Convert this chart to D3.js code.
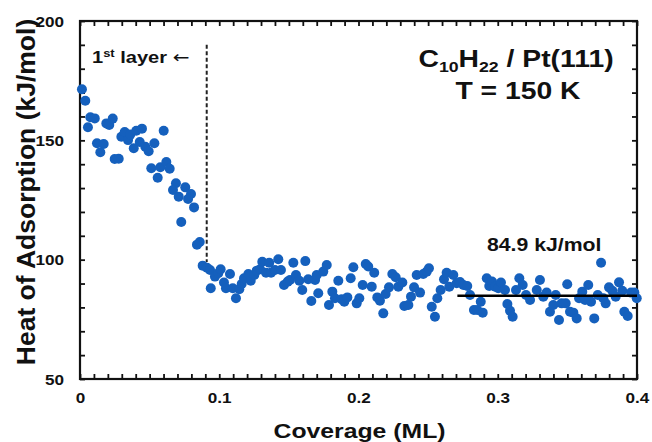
<!DOCTYPE html>
<html>
<head>
<meta charset="utf-8">
<script src="https://cdn.jsdelivr.net/npm/d3@7"></script>
<style>
  body { margin: 0; background: #fff; }
  svg text { font-family: "Liberation Sans", Arial, sans-serif; font-weight: bold; fill: #111; }
</style>
</head>
<body>
<svg id="chart" width="652" height="442"></svg>
<script>
// coverage (ML) values
const coverage = [
  0.0014, 0.0038, 0.0074, 0.0106, 0.0057, 0.0189, 0.0210, 0.0235, 0.0122, 0.0170,
  0.0146, 0.0249, 0.0278, 0.0297, 0.0321, 0.0345, 0.0361, 0.0404, 0.0445, 0.0386,
  0.0429, 0.0469, 0.0493, 0.0534, 0.0601, 0.0512, 0.0558, 0.0577, 0.0620, 0.0644,
  0.0689, 0.0668, 0.0709, 0.0756, 0.0797, 0.0776, 0.0819, 0.0727, 0.0840, 0.0860,
  0.0881, 0.0912, 0.0934,
  0.0939, 0.0969, 0.0993, 0.1010, 0.1034, 0.1048, 0.1077, 0.1097, 0.1120, 0.1144,
  0.1161, 0.1178, 0.1209, 0.1226, 0.1252, 0.1269, 0.1293, 0.1309, 0.1336, 0.1359,
  0.1372, 0.1400, 0.1424, 0.1443, 0.1465, 0.1492, 0.1508, 0.1532, 0.1551, 0.1575,
  0.1596, 0.1618, 0.1639, 0.1661, 0.1688, 0.1700, 0.1711,
  0.1747, 0.1772, 0.1788, 0.1812, 0.1831, 0.1855, 0.1879, 0.1898, 0.1920, 0.1944,
  0.1963, 0.1987, 0.2006, 0.2030, 0.2052, 0.2070, 0.2095, 0.2113, 0.2135, 0.2154,
  0.2178, 0.2195, 0.2219, 0.2243, 0.2267, 0.2286, 0.2315, 0.2329, 0.2358, 0.2377,
  0.2399, 0.2418, 0.2442, 0.2465, 0.2490, 0.2506, 0.2526,
  0.2549, 0.2566, 0.2590, 0.2614, 0.2633, 0.2652, 0.2681, 0.2705, 0.2729, 0.2753,
  0.2781, 0.2801, 0.2829, 0.2853, 0.2878, 0.2892, 0.2921, 0.2939, 0.2959, 0.2982,
  0.3004, 0.3023, 0.3052, 0.3069, 0.3088, 0.3107, 0.3131, 0.3155, 0.3179, 0.3203,
  0.3232, 0.3280,
  0.3303, 0.3327, 0.3351, 0.3375, 0.3399, 0.3416, 0.3440, 0.3459, 0.3488, 0.3499,
  0.3519, 0.3543, 0.3567, 0.3584, 0.3607, 0.3627, 0.3650, 0.3670, 0.3693, 0.3718,
  0.3742, 0.3758, 0.3775, 0.3799, 0.3823, 0.3847, 0.3871, 0.3894, 0.3909, 0.3933,
  0.3957, 0.3981, 0.3998
];

// heat of adsorption (kJ/mol), same order
const heat = [
  171.4, 166.6, 159.7, 159.2, 155.5, 157.1, 156.4, 159.1, 148.8, 148.5,
  145.0, 142.2, 142.3, 151.5, 153.5, 150.1, 152.4, 154.0, 154.9, 146.7,
  149.3, 147.3, 145.4, 148.8, 154.0, 138.3, 134.3, 138.7, 140.9, 138.1,
  132.0, 129.2, 126.4, 130.3, 127.5, 125.4, 121.9, 115.8, 106.3, 107.4,
  97.5, 96.6, 95.7,
  88.0, 92.9, 94.3, 96.0, 90.4, 88.0, 94.0, 88.0, 83.8, 87.6,
  89.8, 92.2, 94.0, 91.2, 93.6, 95.4, 96.0, 99.1, 94.5, 98.7,
  94.5, 95.7, 100.2, 95.7, 89.4, 90.8, 91.5, 98.7, 93.6, 91.2,
  87.3, 99.4, 91.8, 82.7, 91.5, 93.6, 85.9,
  95.0, 97.8, 81.0, 86.6, 83.8, 91.2, 83.4, 82.4, 84.2, 92.2,
  96.8, 81.7, 83.8, 89.4, 98.2, 97.1, 88.7, 94.5, 84.2, 82.8,
  77.5, 85.6, 88.4, 94.0, 92.6, 88.7, 90.4, 80.6, 81.0, 84.5,
  88.4, 93.6, 86.2, 94.0, 95.0, 96.4, 80.3,
  76.1, 83.8, 87.3, 91.8, 94.5, 88.7, 93.6, 90.1, 90.6, 89.4,
  89.0, 85.2, 78.9, 78.9, 82.4, 77.8, 92.2, 89.0, 90.8, 88.7,
  88.0, 90.4, 87.3, 81.4, 78.6, 76.1, 87.3, 92.2, 89.4, 85.2,
  83.1, 87.3,
  91.5, 84.5, 86.2, 78.2, 81.0, 85.2, 74.7, 81.7, 81.7, 89.7,
  78.2, 77.8, 75.4, 83.8, 86.6, 83.1, 89.4, 82.4, 75.4, 85.2,
  98.7, 83.8, 81.7, 88.4, 87.0, 84.5, 90.5, 87.0, 78.2, 76.4,
  86.2, 86.2, 83.8
];

const xTickLabels = [0, 0.1, 0.2, 0.3, 0.4];
const yTickLabels = [50, 100, 150, 200];

const firstLayerEdge = 0.091;        // dashed marker
const firstLayerSpan = [99, 190];
const plateauValue = 84.9;           // average line
const plateauFrom = 0.271;

const width = 652, height = 442;
const margin = { top: 21, right: 15, bottom: 63, left: 80 };
const stretch = 1.18; // glyphs in the picture are drawn wider than normal

const svg = d3.select("#chart");

const x = d3.scaleLinear().domain([0, 0.4]).range([margin.left, width - margin.right]);
const y = d3.scaleLinear().domain([50, 200]).range([height - margin.bottom, margin.top]);

const xMinor = d3.range(0, 41).map((i) => i / 100);
const yMinor = d3.range(50, 201, 10);
const isMajorX = (d) => xTickLabels.some((t) => Math.abs(t - d) < 1e-9);
const fmtX = (d) => (d === 0 ? "0" : d3.format(".1f")(d));

function styleAxis(g) {
  g.select(".domain").remove();
  g.selectAll(".tick line").attr("stroke", "#111").attr("stroke-width", 1.8);
  g.selectAll(".tick text").attr("font-size", 14.5).attr("fill", "#111");
}

// bottom axis with labels
svg.append("g")
  .attr("transform", `translate(0,${height - margin.bottom})`)
  .call(d3.axisBottom(x).tickValues(xMinor).tickSizeInner(-5).tickSizeOuter(0).tickPadding(14)
    .tickFormat((d) => (isMajorX(d) ? fmtX(d) : "")))
  .call(styleAxis)
  .call((g) => g.selectAll(".tick text").attr("transform", `scale(${stretch},1)`));

// top axis, ticks only
svg.append("g")
  .attr("transform", `translate(0,${margin.top})`)
  .call(d3.axisTop(x).tickValues(xMinor).tickSizeInner(-5).tickSizeOuter(0).tickFormat(""))
  .call(styleAxis);

// left axis with labels
svg.append("g")
  .attr("transform", `translate(${margin.left},0)`)
  .call(d3.axisLeft(y).tickValues(yMinor).tickSizeInner(-5).tickSizeOuter(0).tickPadding(16)
    .tickFormat((d) => (yTickLabels.includes(d) ? d : "")))
  .call(styleAxis)
  .call((g) => g.selectAll(".tick text").attr("dy", "0.35em")
    .attr("transform", `scale(${stretch},1)`)
    .attr("x", -16 / stretch));

// right axis, ticks only
svg.append("g")
  .attr("transform", `translate(${width - margin.right},0)`)
  .call(d3.axisRight(y).tickValues(yMinor).tickSizeInner(-5).tickSizeOuter(0).tickFormat(""))
  .call(styleAxis);

// frame
svg.append("rect")
  .attr("x", margin.left).attr("y", margin.top)
  .attr("width", width - margin.left - margin.right)
  .attr("height", height - margin.top - margin.bottom)
  .attr("fill", "none").attr("stroke", "#111").attr("stroke-width", 2.2);

// dashed first-layer marker
svg.append("line")
  .attr("x1", x(firstLayerEdge)).attr("x2", x(firstLayerEdge))
  .attr("y1", y(firstLayerSpan[1])).attr("y2", y(firstLayerSpan[0]))
  .attr("stroke", "#222").attr("stroke-width", 2).attr("stroke-dasharray", "4,2.5");

// points
svg.append("g")
  .selectAll("circle")
  .data(coverage.map((c, i) => [c, heat[i]]))
  .join("circle")
  .attr("cx", (d) => x(d[0]))
  .attr("cy", (d) => y(d[1]))
  .attr("r", 5)
  .attr("fill", "#1560bd");

// plateau line
svg.append("line")
  .attr("x1", x(plateauFrom)).attr("x2", x(0.4))
  .attr("y1", y(plateauValue)).attr("y2", y(plateauValue))
  .attr("stroke", "#000").attr("stroke-width", 2.5);

// helper: horizontally stretched text anchored at (px, py)
function stretchedText(px, py, size, anchor) {
  return svg.append("g")
    .attr("transform", `translate(${px},${py}) scale(${stretch},1)`)
    .append("text")
    .attr("font-size", size)
    .attr("text-anchor", anchor || "start");
}

stretchedText(487, 251, 18).text(`${plateauValue} kJ/mol`);

const layerLabel = stretchedText(92, 63, 17);
layerLabel.append("tspan").text("1");
layerLabel.append("tspan").attr("font-size", 11).attr("dy", -6).text("st");
layerLabel.append("tspan").attr("dy", 6).text(" layer ");
layerLabel.append("tspan")
  .attr("font-family", "DejaVu Sans").attr("font-weight", "normal").attr("font-size", 17)
  .text("\u2190");

const title1 = stretchedText(516, 67, 24, "middle");
title1.append("tspan").text("C");
title1.append("tspan").attr("font-size", 15).attr("dy", 5).text("10");
title1.append("tspan").attr("dy", -5).text("H");
title1.append("tspan").attr("font-size", 15).attr("dy", 5).text("22");
title1.append("tspan").attr("dy", -5).text(" / Pt(111)");

stretchedText(518, 99, 24, "middle").text("T = 150 K");

// axis titles
stretchedText(x(0.2) + 1, 438, 21, "middle").text("Coverage (ML)");

svg.append("text")
  .attr("transform", `translate(35,192) rotate(-90)`)
  .attr("text-anchor", "middle")
  .attr("font-size", 26.5)
  .text("Heat of Adsorption (kJ/mol)");
</script>
</body>
</html>
